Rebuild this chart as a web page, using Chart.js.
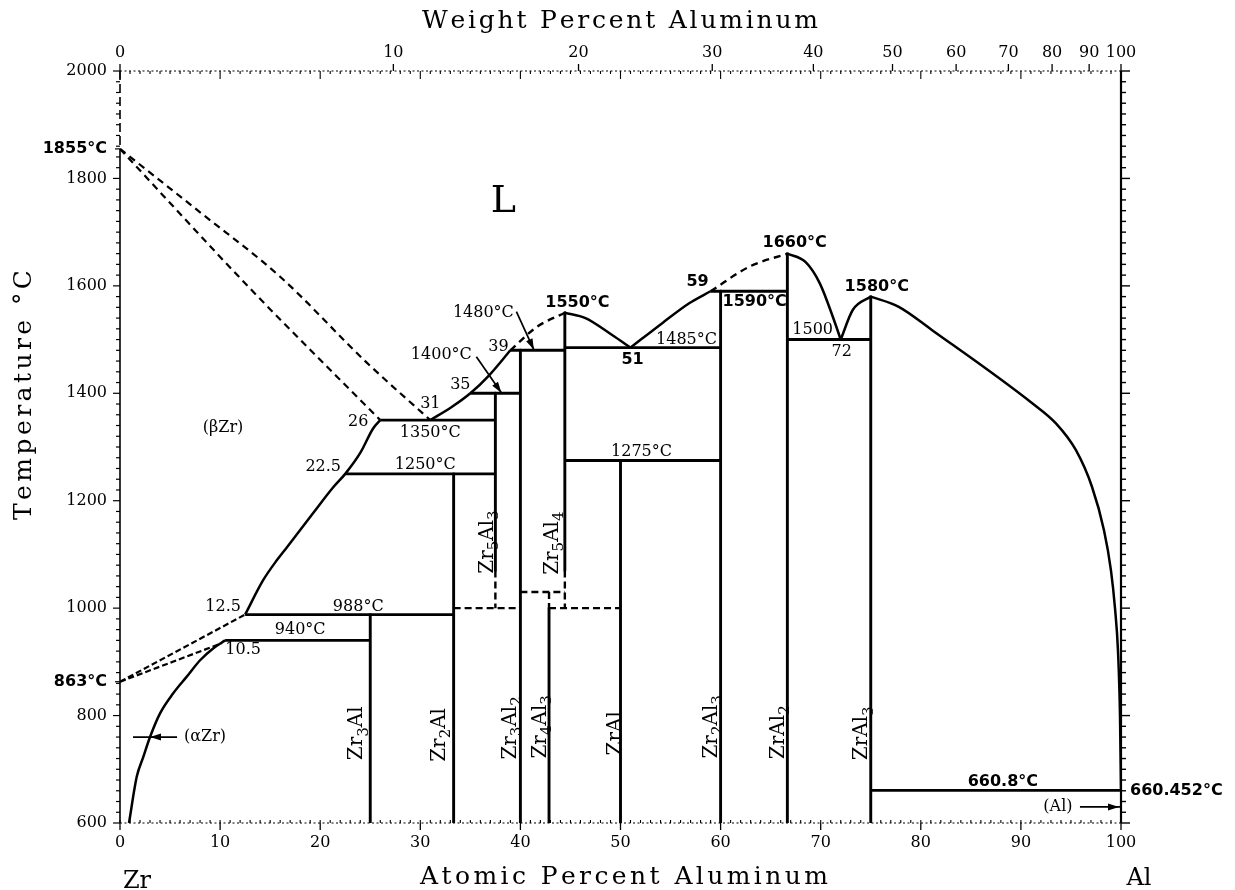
<!DOCTYPE html>
<html>
<head>
<meta charset="utf-8">
<title>Al–Zr Phase Diagram</title>
<script src="https://cdn.jsdelivr.net/npm/chart.js@4.4.1/dist/chart.umd.min.js"></script>
<style>
  html, body { margin: 0; padding: 0; background: #fff; }
  canvas { display: block; }
</style>
</head>
<body>
<canvas id="diagram" width="1235" height="890"></canvas>
<script>
// ---------- Al–Zr phase diagram: composition in at.% Al, temperature in °C ----------

const zrMelt = 1855;          // melting point of Zr
const zrTransus = 863;        // (βZr) -> (αZr)
const alMelt = 660.452;       // melting point of Al

// Zr-rich side
const liquidusBetaZr = [[0, 1855], [8, 1737], [16, 1617], [24.6, 1458], [31, 1350]];
const solidusBetaZr  = [[0, 1855], [13, 1595], [26, 1350]];
const betaZrSolvus   = [[12.5, 988], [14.3, 1052], [15.7, 1090], [16.7, 1114], [19.3, 1177],
                        [21.3, 1225], [22.5, 1250], [24, 1289], [25.3, 1335], [26, 1350]];
const alphaZrSolvus  = [[0.9, 600], [1.67, 686], [2.33, 723], [3.0, 760], [4.0, 804],
                        [5.3, 841], [6.65, 872], [8.0, 903], [9.3, 925], [10.5, 940]];
const transusUpper   = [[0, 863], [12.5, 988]];
const transusLower   = [[0, 863], [10.2, 935]];

// Liquidus between the intermetallics
const liquidus31to39  = [[31, 1350], [33.1, 1374], [35, 1400], [36.9, 1434], [39, 1480]];
const liquidus39to44  = [[39, 1480], [41.6, 1523], [44.44, 1550]];
const liquidus44to51  = [[44.44, 1550], [46.5, 1540], [49.2, 1508], [51, 1485]];
const liquidus51to59  = [[51, 1485], [54.2, 1531], [56.9, 1568], [59, 1590]];
const liquidus59to67  = [[59, 1590], [62.9, 1636], [66.67, 1660]];
const liquidus67to72  = [[66.67, 1660], [68.5, 1644], [69.9, 1605], [71.2, 1543], [72, 1500]];
const liquidus72to75  = [[72, 1500], [73.2, 1555], [75, 1580]];
const liquidus75to100 = [[75, 1580], [77.8, 1561], [81.1, 1518], [91.1, 1382], [93.5, 1344],
                         [95.5, 1294], [97.1, 1226], [98.3, 1145], [99.0, 1070], [99.4, 1000],
                         [99.7, 920], [99.9, 800], [100, 660.452]];

// Invariant (horizontal) reactions
const isoTemps = [1350, 1250, 988, 940, 1400, 1480, 1485, 1275, 1590, 1500, 660.8];
const isoLeft  = [26, 22.5, 12.5, 10.5, 35, 39, 44.44, 44.44, 59, 66.67, 75];
const isoRight = [37.5, 37.5, 33.33, 25, 40, 44.44, 60, 60, 66.67, 75, 100];

// Intermetallic compounds (line compounds)
const compNames  = ['Zr_3Al', 'Zr_2Al', 'Zr_5Al_3', 'Zr_3Al_2', 'Zr_4Al_3', 'Zr_5Al_4', 'ZrAl', 'Zr_2Al_3', 'ZrAl_2', 'ZrAl_3'];
const compX      = [25, 33.33, 37.5, 40, 42.86, 44.44, 50, 60, 66.67, 75];
const compTop    = [988, 1250, 1400, 1480, 1000, 1550, 1275, 1590, 1660, 1580];
const compBottom = [600, 600, 1070, 600, 600, 1070, 600, 600, 600, 600];

// Uncertain low-temperature boundaries (dashed)
const zr5al3Lower = [[37.5, 1070], [37.5, 1000]];
const zr5al4Lower = [[44.44, 1070], [44.44, 1000]];
const zr4al3Upper = [[42.86, 1030], [42.86, 1000]];
const dashed1000a = [[33.33, 1000], [40, 1000]];
const dashed1030  = [[40, 1030], [44.44, 1030]];
const dashed1000b = [[42.86, 1000], [50, 1000]];

// Key compositions written on the diagram
const keyComps = [12.5, 10.5, 22.5, 26, 31, 35, 39, 51, 59, 72];

// Axis ticks
const atLabels   = [0, 10, 20, 30, 40, 50, 60, 70, 80, 90, 100];
const wtLabels   = [0, 10, 20, 30, 40, 50, 60, 70, 80, 90, 100];
const tempLabels = [600, 800, 1000, 1200, 1400, 1600, 1800, 2000];

// Atomic masses for the weight-percent scale
const massZr = 91.224, massAl = 26.982;
const wtToAt = w => w >= 100 ? 100 : 100 * (w / massAl) / (w / massAl + (100 - w) / massZr);

// ---------- text placement (at.% Al, °C) ----------
const isoLabelAt = [
  [31.0, 1326, 'serif'], [30.5, 1266, 'serif'], [23.8, 1002, 'serif'], [18.0, 959, 'serif'],
  [32.1, 1471, 'serif'], [36.3, 1549, 'serif'], [56.6, 1499, 'serif'], [52.1, 1291, 'serif'],
  [63.4, 1570, 'sans'], [69.2, 1518, 'plain'], [88.2, 676, 'sans']
];
const compLabelAt = [[10.3, 1002], [12.3, 922], [20.3, 1263], [23.8, 1346], [31.0, 1380],
                     [34.0, 1415], [37.8, 1486], [51.2, 1462], [57.7, 1607], [72.1, 1477]];
const compLabelBold = [false, false, false, false, false, false, false, true, true, false];
const formulaAt = [[23.5, 767], [31.7, 764], [36.5, 1123], [38.8, 777], [41.8, 779],
                   [43.0, 1121], [49.3, 767], [58.9, 779], [65.6, 769], [73.9, 767]];

const arrows = [
  { from: [5.7, 760],   to: [1.3, 760],   tip: [3.0, 760] },
  { from: [35.6, 1468], to: [38.1, 1401], tip: [38.1, 1401] },
  { from: [39.6, 1552], to: [41.35, 1481], tip: [41.35, 1481] },
  { from: [95.9, 630],  to: [100, 630],   tip: [99.8, 630] }
];

// ---------- datasets ----------
const datasets = [];
function addLine(pts, opt = {}) {
  datasets.push({
    data: pts.map(([x, y]) => ({ x, y })),
    showLine: true,
    pointRadius: 0,
    pointHoverRadius: 0,
    borderColor: '#000',
    borderWidth: opt.width || 2.8,
    borderDash: opt.dash || [],
    borderCapStyle: 'butt',
    borderJoinStyle: 'round',
    fill: false,
    tension: 0,
    cubicInterpolationMode: opt.smooth ? 'monotone' : 'default'
  });
}
const DASH = [7, 5];

addLine(liquidusBetaZr, { dash: DASH, width: 2.2, smooth: true });
addLine(solidusBetaZr, { dash: DASH, width: 2.2, smooth: true });
addLine(transusUpper, { dash: [6, 3], width: 2.2 });
addLine(transusLower, { dash: [6, 3], width: 2.2 });
addLine(betaZrSolvus, { smooth: true, width: 2.5 });
addLine(alphaZrSolvus, { smooth: true, width: 2.5 });
addLine(liquidus31to39, { smooth: true, width: 2.5 });
addLine(liquidus39to44, { dash: DASH, width: 2.4, smooth: true });
addLine(liquidus44to51, { smooth: true, width: 2.5 });
addLine(liquidus51to59, { smooth: true, width: 2.5 });
addLine(liquidus59to67, { dash: DASH, width: 2.4, smooth: true });
addLine(liquidus67to72, { smooth: true, width: 2.5 });
addLine(liquidus72to75, { smooth: true, width: 2.5 });
addLine(liquidus75to100, { smooth: true, width: 2.5 });

isoTemps.forEach((t, i) => addLine([[isoLeft[i], t], [isoRight[i], t]], { width: 2.9 }));
compX.forEach((x, i) => addLine([[x, compTop[i]], [x, compBottom[i]]], { width: 2.9 }));

[zr5al3Lower, zr5al4Lower, zr4al3Upper, dashed1000a, dashed1030, dashed1000b]
  .forEach(p => addLine(p, { dash: [7, 4], width: 2.4 }));

arrows.forEach(a => addLine([a.from, a.to], { width: 1.7 }));

// ---------- drawing helpers ----------
const SERIF = '16px "DejaVu Serif"';
const SANS_B = 'bold 16px "DejaVu Sans"';

function spacedText(ctx, text, cx, base, width, font, angle = 0) {
  ctx.save();
  ctx.font = font;
  ctx.translate(cx, base);
  ctx.rotate(angle);
  ctx.textAlign = 'left';
  ctx.textBaseline = 'alphabetic';
  const chars = [...text];
  const ws = chars.map(c => ctx.measureText(c).width);
  const natural = ws.reduce((s, w) => s + w, 0);
  const gap = (width - natural) / (chars.length - 1);
  let x = -width / 2;
  chars.forEach((c, i) => { ctx.fillText(c, x, 0); x += ws[i] + gap; });
  ctx.restore();
}

function formulaText(ctx, f, cx, cy, size) {
  const segs = [];
  for (let i = 0; i < f.length; i++) {
    if (f[i] === '_') segs.push({ t: f[++i], sub: true });
    else segs.push({ t: f[i], sub: false });
  }
  const main = `${size}px "DejaVu Serif"`;
  const sub = `${Math.round(size * 0.74)}px "DejaVu Serif"`;
  ctx.save();
  ctx.translate(cx, cy);
  ctx.rotate(-Math.PI / 2);
  ctx.textAlign = 'left';
  ctx.textBaseline = 'alphabetic';
  const widths = segs.map(s => { ctx.font = s.sub ? sub : main; return ctx.measureText(s.t).width; });
  let x = -widths.reduce((a, b) => a + b, 0) / 2;
  const base = size * 0.36;
  segs.forEach((s, i) => {
    ctx.font = s.sub ? sub : main;
    ctx.fillText(s.t, x, s.sub ? base + size * 0.28 : base);
    x += widths[i];
  });
  ctx.restore();
}

const degC = v => `${v}°C`;

// Frame, ticks, annotations and titles
const decorations = {
  id: 'decorations',
  afterDatasetsDraw(chart) {
    const { ctx, chartArea: a } = chart;
    const X = chart.scales.x, Y = chart.scales.y;
    const px = v => X.getPixelForValue(v), py = v => Y.getPixelForValue(v);
    ctx.save();
    ctx.strokeStyle = '#000';
    ctx.fillStyle = '#000';
    const seg = (x1, y1, x2, y2, w = 1, dash = []) => {
      ctx.beginPath(); ctx.setLineDash(dash); ctx.lineWidth = w;
      ctx.moveTo(x1, y1); ctx.lineTo(x2, y2); ctx.stroke();
    };

    // axis lines
    seg(a.left, a.top, a.left, py(zrMelt), 1.6, [9, 4]);
    seg(a.left, py(zrMelt), a.left, a.bottom, 1.6);
    seg(a.right, a.top, a.right, a.bottom, 2.2);
    seg(a.left, a.top, a.right, a.top, 1.2, [2, 2.5]);
    seg(a.left, a.bottom, a.right, a.bottom, 1.2, [2, 2.5]);
    ctx.setLineDash([]);

    // temperature ticks
    for (let v = 600; v <= 2000; v += 20) {
      const y = py(v), major = v % 200 === 0;
      seg(a.left - (major ? 7 : 4), y, a.left, y, 1.2);
      seg(a.right, y, a.right + (major ? 9 : 5), y, 1.4);
    }
    [zrMelt, zrTransus].forEach(v => seg(a.left - 5, py(v), a.left, py(v), 1.2));

    // composition ticks
    for (let v = 0; v <= 100; v++) {
      const x = px(v), major = v % 10 === 0;
      seg(x, a.bottom, x, a.bottom - 3, 1.1);
      if (major) seg(x, a.bottom, x, a.bottom + 7, 1.3);
      seg(x, a.top, x, a.top + (major ? 8 : 3), 1.1);
    }
    wtLabels.forEach(w => { const x = px(wtToAt(w)); seg(x, a.top, x, a.top - 7, 1.3); });

    // arrow heads
    arrows.forEach(ar => {
      const x0 = px(ar.from[0]), y0 = py(ar.from[1]);
      const x1 = px(ar.to[0]), y1 = py(ar.to[1]);
      const ang = Math.atan2(y1 - y0, x1 - x0);
      const tx = px(ar.tip[0]), ty = py(ar.tip[1]);
      ctx.save();
      ctx.translate(tx, ty); ctx.rotate(ang);
      ctx.beginPath(); ctx.moveTo(0, 0); ctx.lineTo(-11, -3.5); ctx.lineTo(-11, 3.5); ctx.closePath();
      ctx.fill();
      ctx.restore();
    });

    // text helpers
    const put = (text, x, y, font, align = 'center') => {
      ctx.font = font; ctx.textAlign = align; ctx.textBaseline = 'middle';
      ctx.fillText(text, x, y);
    };

    // isotherm temperatures
    isoTemps.forEach((t, i) => {
      const [x, y, style] = isoLabelAt[i];
      const text = style === 'plain' ? String(t) : degC(t);
      put(text, px(x), py(y), style === 'sans' ? SANS_B : SERIF);
    });
    // key compositions
    keyComps.forEach((c, i) => {
      const [x, y] = compLabelAt[i];
      put(String(c), px(x), py(y), compLabelBold[i] ? SANS_B : SERIF);
    });
    // congruent maxima
    put(degC(compTop[5]), px(45.7), py(1568), SANS_B);
    put(degC(compTop[8]), px(67.4), py(1680), SANS_B);
    put(degC(compTop[9]), px(75.6), py(1598), SANS_B);
    put(degC(alMelt), px(100.9), py(alMelt), SANS_B, 'left');

    // phase fields
    put('L', px(38.3), py(1756), '38px "DejaVu Serif"');
    put('(βZr)', px(10.3), py(1335), SERIF);
    put('(αZr)', px(8.5), py(760), SERIF);
    put('(Al)', px(93.7), py(630), SERIF);

    // compound names
    compNames.forEach((n, i) => formulaText(ctx, n, px(formulaAt[i][0]), py(formulaAt[i][1]), 20));

    // axis titles
    const TITLE = '25px "DejaVu Serif"';
    spacedText(ctx, 'Weight Percent Aluminum', 620, 28, 396, TITLE);
    spacedText(ctx, 'Atomic Percent Aluminum', 624, 884, 408, TITLE);
    spacedText(ctx, 'Temperature °C', 31, 395, 250, TITLE, -Math.PI / 2);
    ctx.font = '24px "DejaVu Serif"'; ctx.textAlign = 'center'; ctx.textBaseline = 'alphabetic';
    ctx.fillText('Zr', 137, 888);
    ctx.fillText('Al', 1139, 885);
    ctx.restore();
  }
};

// ---------- chart ----------
Chart.defaults.color = '#000';
Chart.defaults.font.family = 'DejaVu Serif';
Chart.defaults.font.size = 16;

const tickFont = { family: 'DejaVu Serif', size: 16 };
const noGrid = { display: false, drawTicks: false };

new Chart(document.getElementById('diagram'), {
  type: 'scatter',
  data: { datasets },
  options: {
    responsive: false,
    animation: false,
    devicePixelRatio: 1,
    layout: { padding: 0 },
    plugins: { legend: { display: false }, tooltip: { enabled: false } },
    scales: {
      x: {
        type: 'linear', position: 'bottom', min: 0, max: 100,
        grid: noGrid, border: { display: false },
        afterBuildTicks: s => { s.ticks = atLabels.map(v => ({ value: v })); },
        ticks: { font: tickFont, padding: 10, maxRotation: 0, autoSkip: false },
        afterFit: s => { s.height = 67; }
      },
      xTop: {
        type: 'linear', position: 'top', min: 0, max: 100,
        grid: noGrid, border: { display: false },
        afterBuildTicks: s => { s.ticks = wtLabels.map(w => ({ value: wtToAt(w) })); },
        ticks: { font: tickFont, padding: 9, maxRotation: 0, autoSkip: false,
                 callback: (v, i) => String(wtLabels[i]) },
        afterFit: s => { s.height = 71; }
      },
      y: {
        type: 'linear', position: 'left', min: 600, max: 2000,
        grid: noGrid, border: { display: false },
        afterBuildTicks: s => {
          const t = [];
          for (let v = 600; v <= 2000; v += 20) t.push(v);
          t.push(zrTransus, zrMelt);
          t.sort((p, q) => p - q);
          s.ticks = t.map(v => ({ value: v }));
        },
        ticks: {
          autoSkip: false, padding: 13,
          font: c => (c.tick && (c.tick.value === zrMelt || c.tick.value === zrTransus))
            ? { family: 'DejaVu Sans', size: 16, weight: 'bold' } : tickFont,
          callback: v => (v === zrMelt || v === zrTransus) ? degC(v)
            : (tempLabels.includes(v) ? String(v) : '')
        },
        afterFit: s => { s.width = 120; }
      },
      yRight: {
        type: 'linear', position: 'right', min: 600, max: 2000,
        grid: noGrid, border: { display: false },
        ticks: { display: false },
        afterFit: s => { s.width = 114; }
      }
    }
  },
  plugins: [decorations]
});
</script>
</body>
</html>
